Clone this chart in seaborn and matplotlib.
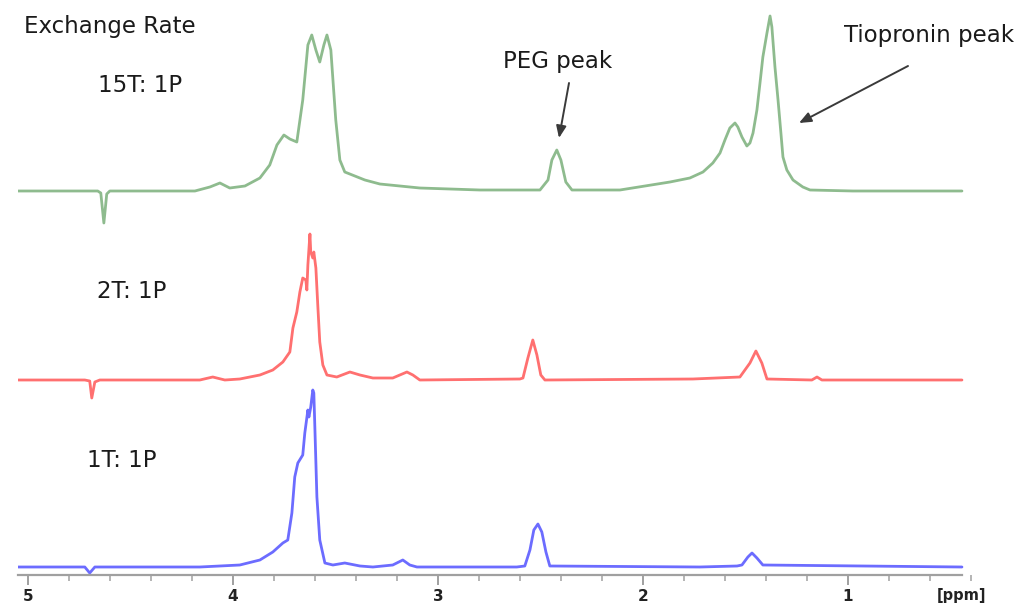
import numpy as np
import pandas as pd
import seaborn as sns
import matplotlib
matplotlib.use("Agg")
import matplotlib.pyplot as plt
from matplotlib.ticker import MultipleLocator, FixedLocator

# ---------------- data ----------------
# chemical shift (ppm) and intensity above each trace's own baseline
green_ppm = [5.049, 4.659, 4.644, 4.629, 4.615, 4.600, 4.185, 4.112, 4.063, 4.015,
             3.941, 3.868, 3.820, 3.785, 3.751, 3.722, 3.688, 3.659, 3.634, 3.615,
             3.595, 3.576, 3.556, 3.541, 3.522, 3.498, 3.478, 3.454, 3.405, 3.356,
             3.283, 3.088, 2.795, 2.502, 2.463, 2.444, 2.420, 2.400, 2.376, 2.346,
             2.112, 1.868, 1.771, 1.707, 1.659, 1.624, 1.600, 1.576, 1.551, 1.537,
             1.517, 1.493, 1.478, 1.463, 1.444, 1.429, 1.415, 1.395, 1.380, 1.371,
             1.356, 1.341, 1.327, 1.317, 1.298, 1.268, 1.220, 1.185, 0.976, 0.444]
green_int = [0, 0, -2, -32, -3, 0, 0, 4, 8, 3,
             5, 13, 26, 46, 56, 52, 49, 91, 146, 156,
             141, 129, 146, 156, 141, 71, 31, 19, 15, 11,
             7, 3, 1, 1, 11, 31, 41, 31, 9, 1,
             1, 9, 13, 19, 28, 38, 51, 63, 68, 64,
             54, 45, 48, 58, 81, 108, 134, 158, 175, 164,
             124, 91, 58, 34, 21, 11, 4, 1, 0, 0]

red_ppm = [5.049, 4.722, 4.698, 4.688, 4.673, 4.649, 4.161, 4.098, 4.039, 3.966,
           3.868, 3.805, 3.756, 3.722, 3.707, 3.688, 3.673, 3.659, 3.644, 3.639,
           3.634, 3.624, 3.620, 3.610, 3.605, 3.595, 3.585, 3.576, 3.561, 3.541,
           3.493, 3.429, 3.380, 3.317, 3.220, 3.151, 3.122, 3.088, 2.600, 2.585,
           2.561, 2.537, 2.517, 2.498, 2.478, 1.756, 1.527, 1.478, 1.449, 1.420,
           1.395, 1.176, 1.151, 1.127, 0.444]
red_int = [0, 0, -1, -18, -2, 0, 0, 3, 0, 1,
           5, 10, 18, 28, 52, 68, 88, 102, 100, 90,
           115, 146, 128, 122, 128, 112, 72, 38, 15, 5,
           3, 8, 5, 2, 2, 8, 5, 0, 1, 2,
           22, 40, 25, 5, 0, 1, 3, 17, 29, 17,
           1, 0, 3, 0, 0]

blue_ppm = [5.049, 4.722, 4.698, 4.673, 4.161, 3.966, 3.868, 3.805, 3.756, 3.732,
            3.712, 3.698, 3.683, 3.659, 3.649, 3.634, 3.629, 3.620, 3.610, 3.605,
            3.600, 3.590, 3.576, 3.551, 3.512, 3.454, 3.380, 3.317, 3.220, 3.171,
            3.137, 3.102, 2.615, 2.576, 2.551, 2.532, 2.512, 2.493, 2.473, 2.454,
            1.722, 1.541, 1.517, 1.488, 1.468, 1.444, 1.415, 0.444]
blue_int = [0, 0, -6, 0, 0, 2, 7, 15, 24, 27,
            54, 90, 104, 112, 134, 157, 150, 160, 177, 174,
            140, 70, 27, 4, 2, 4, 1, 0, 2, 7,
            2, 0, 0, 1, 17, 37, 43, 35, 15, 1,
            0, 1, 2, 10, 14, 9, 2, 0]

trace_labels = ["15T: 1P", "2T: 1P", "1T: 1P"]
title_text = "Exchange Rate"
peak_labels = ["PEG peak", "Tiopronin peak"]
major_ticks = [5, 4, 3, 2, 1]
axis_unit = "[ppm]"

# ---------------- styling / layout ----------------
W, H = 1032, 607
sns.set_theme(style="white")
plt.rcParams["font.family"] = ["DejaVu Sans"]

fig = plt.figure(figsize=(W / 100, H / 100), dpi=100)
x_left, x_right = 5.049, 0.395
px_left, px_right = 17.75, 972.0
ax = fig.add_axes([px_left / W, (H - 575) / H, (px_right - px_left) / W, 575 / H])

offsets = {"green": 376, "red": 187, "blue": 0}
traces = [("green", green_ppm, green_int, "#5f9f5f"),
          ("red", red_ppm, red_int, "#ff3333"),
          ("blue", blue_ppm, blue_int, "#2e2eff")]
for name, xs, ys, col in traces:
    df = pd.DataFrame({"ppm": xs, "I": np.asarray(ys, float) + offsets[name]})
    sns.lineplot(data=df, x="ppm", y="I", ax=ax, color=col, lw=2.0, alpha=0.7,
                 estimator=None, sort=True)

ax.set_xlim(x_left, x_right)
ax.set_ylim(-8, 567)
ax.set_xlabel("")
ax.set_ylabel("")
ax.set_yticks([])
for s in ["top", "left", "right"]:
    ax.spines[s].set_visible(False)
ax.spines["bottom"].set_color("#a0a0a0")
ax.spines["bottom"].set_linewidth(1.6)
ax.spines["bottom"].set_bounds(x_left, 0.444)
ax.xaxis.set_major_locator(FixedLocator(major_ticks))
ax.xaxis.set_minor_locator(MultipleLocator(0.2))
ax.tick_params(axis="x", which="major", bottom=True, length=7.5, width=1.2,
               color="#909090", pad=2.5, labelsize=11, labelcolor="#222222")
ax.tick_params(axis="x", which="minor", bottom=True, length=4, width=1.2,
               color="#a8a8a8")
for lab in ax.get_xticklabels():
    lab.set_fontweight("bold")

def fy(py):
    return 1 - py / H

def fx(px):
    return px / W

txt_kw = dict(fontsize=16.5, color="#1a1a1a", va="baseline")
fig.text(fx(110), fy(33), title_text, ha="center", **txt_kw)
fig.text(fx(140), fy(92), trace_labels[0], ha="center", **txt_kw)
fig.text(fx(132), fy(298), trace_labels[1], ha="center", **txt_kw)
fig.text(fx(122), fy(467), trace_labels[2], ha="center", **txt_kw)
fig.text(fx(558), fy(68), peak_labels[0], ha="center", **txt_kw)
fig.text(fx(929), fy(42), peak_labels[1], ha="center", **txt_kw)
fig.text(fx(961), fy(600), axis_unit, ha="center", fontsize=10.5,
         fontweight="bold", color="#222222", va="baseline")

arrow_kw = dict(arrowstyle="-|>,head_length=0.6,head_width=0.25", color="#3a3a3a",
                lw=1.4, shrinkA=0, shrinkB=0)
ax.annotate("", xy=(fx(559), fy(138)), xytext=(fx(569), fy(83)),
            xycoords="figure fraction", textcoords="figure fraction",
            arrowprops=arrow_kw)
ax.annotate("", xy=(fx(799), fy(123)), xytext=(fx(908), fy(66)),
            xycoords="figure fraction", textcoords="figure fraction",
            arrowprops=arrow_kw)

fig.savefig("out.png", dpi=100)
